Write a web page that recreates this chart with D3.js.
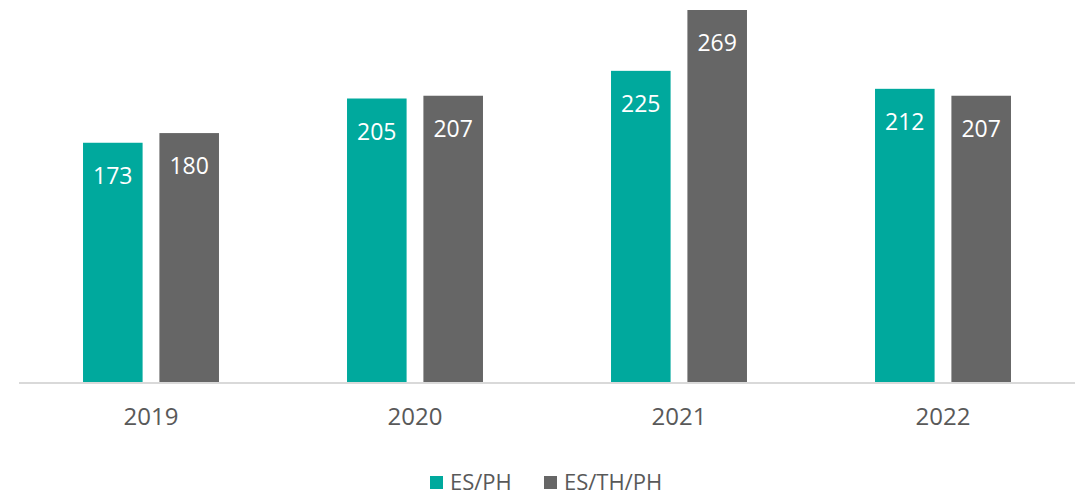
<!DOCTYPE html>
<html>
<head>
<meta charset="utf-8">
<script src="https://cdn.jsdelivr.net/npm/d3@7"></script>
<style>
  body { margin: 0; background: #fff; }
  svg { display: block; font-family: "Open Sans", "Noto Sans", sans-serif; }
</style>
</head>
<body>
<div id="container"></div>
<script>
    // data
    const years = ["2019", "2020", "2021", "2022"];
    const seriesNames = ["ES/PH", "ES/TH/PH"];
    const esPh = [173, 205, 225, 212];
    const esThPh = [180, 207, 269, 207];
    const colors = ["#00a99d", "#666666"];

    const width = 1082;
    const height = 496;
    const baseY = 382;

    const svg = d3.select("#container").append("svg")
        .attr("width", width)
        .attr("height", height);

    const x = d3.scaleBand()
        .domain(years)
        .range([19, 1075])
        .paddingInner(0.485)
        .paddingOuter(0.2425);

    const xs = d3.scaleBand()
        .domain(seriesNames)
        .range([0, x.bandwidth()])
        .paddingInner(0.22);

    const y = d3.scaleLinear()
        .domain([0, 269])
        .range([baseY, 10]);

    const rows = years.map((yr, i) => ({
        year: yr,
        values: [
            { name: seriesNames[0], value: esPh[i] },
            { name: seriesNames[1], value: esThPh[i] }
        ]
    }));

    // bars
    const groups = svg.append("g").selectAll("g")
        .data(rows)
        .join("g")
        .attr("transform", d => `translate(${x(d.year)},0)`);

    groups.selectAll("rect")
        .data(d => d.values)
        .join("rect")
        .attr("x", d => xs(d.name))
        .attr("y", d => y(d.value))
        .attr("width", xs.bandwidth())
        .attr("height", d => baseY - y(d.value))
        .attr("fill", (d, i) => colors[i]);

    // value labels
    groups.selectAll("text")
        .data(d => d.values)
        .join("text")
        .attr("x", d => xs(d.name) + xs.bandwidth() / 2)
        .attr("y", d => y(d.value) + 41)
        .attr("text-anchor", "middle")
        .attr("fill", "#ffffff")
        .attr("font-size", 23)
        .text(d => d.value);

    // baseline axis
    const axis = svg.append("g")
        .attr("transform", `translate(0,${baseY})`)
        .call(d3.axisBottom(x).tickSize(0).tickPadding(26));
    axis.select(".domain")
        .attr("stroke", "#d9d9d9")
        .attr("stroke-width", 2)
        .attr("d", "M19,1H1075");
    axis.selectAll("text")
        .attr("font-size", 24)
        .attr("font-family", "'Open Sans', 'Noto Sans', sans-serif")
        .attr("fill", "#595959");

    // legend
    const legendX = [430, 544];
    const legend = svg.append("g").selectAll("g")
        .data(seriesNames)
        .join("g")
        .attr("transform", (d, i) => `translate(${legendX[i]},476)`);
    legend.append("rect")
        .attr("width", 13)
        .attr("height", 13)
        .attr("fill", (d, i) => colors[i]);
    legend.append("text")
        .attr("x", 20)
        .attr("y", 14)
        .attr("font-size", 22)
        .attr("fill", "#595959")
        .text(d => d);
</script>
</body>
</html>
